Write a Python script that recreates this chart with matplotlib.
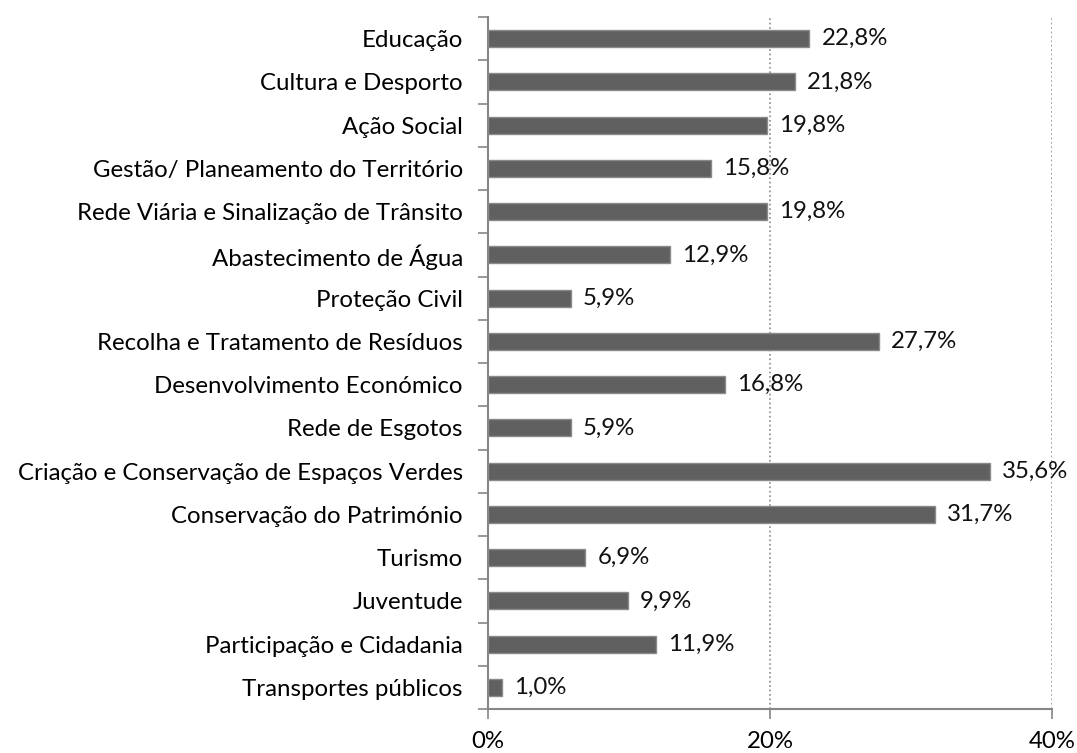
import numpy as np
import matplotlib.pyplot as plt
from matplotlib.ticker import FuncFormatter, FixedLocator

# Áreas de intervenção (de cima para baixo) e percentagens
areas = [
    'Educação',
    'Cultura e Desporto',
    'Ação Social',
    'Gestão/ Planeamento do Território',
    'Rede Viária e Sinalização de Trânsito',
    'Abastecimento de Água',
    'Proteção Civil',
    'Recolha e Tratamento de Resíduos',
    'Desenvolvimento Económico',
    'Rede de Esgotos',
    'Criação e Conservação de Espaços Verdes',
    'Conservação do Património',
    'Turismo',
    'Juventude',
    'Participação e Cidadania',
    'Transportes públicos',
]
percentagens = [22.8, 21.8, 19.8, 15.8, 19.8, 12.9, 5.9, 27.7,
                16.8, 5.9, 35.6, 31.7, 6.9, 9.9, 11.9, 1.0]

plt.rcParams['font.family'] = ['Lato', 'DejaVu Sans']
fs = 17.3

fig = plt.figure(figsize=(10.77, 7.53), dpi=100)
ax = fig.add_axes([0.4531, 0.0584, 0.5237, 0.919])

n = len(areas)
y = np.arange(n)[::-1]
valores = np.array(percentagens) / 100

ax.barh(y, valores, height=0.39, color='#606060', edgecolor='#8a8a8a',
        linewidth=1, zorder=3)

for yi, v, p in zip(y, valores, percentagens):
    ax.text(v + 0.0085, yi, f'{p:.1f}%'.replace('.', ','), va='center',
            ha='left', fontsize=fs, color='#111111', zorder=4)

ax.set_xlim(0, 0.4)
ax.set_ylim(-0.5, n - 0.5)

ax.set_xticks([0, 0.2, 0.4])
ax.xaxis.set_major_formatter(FuncFormatter(lambda v, _: f'{v*100:.0f}%'))
ax.tick_params(axis='x', direction='out', length=7, width=1.2,
               color='#868686', labelsize=fs, pad=9)

ax.set_yticks(y)
ax.set_yticklabels(areas)
ax.tick_params(axis='y', which='major', length=0, labelsize=fs, pad=18)
ax.yaxis.set_minor_locator(FixedLocator(np.arange(-0.5, n, 1.0)))
ax.tick_params(axis='y', which='minor', length=7, width=1.2,
               color='#868686', direction='out')

ax.grid(axis='x', linestyle=':', color='#8a8a8a', linewidth=1.2, zorder=0)

for s in ['top', 'right']:
    ax.spines[s].set_visible(False)
for s in ['left', 'bottom']:
    ax.spines[s].set_color('#868686')
    ax.spines[s].set_linewidth(1.5)

fig.savefig('out.png', dpi=100)
